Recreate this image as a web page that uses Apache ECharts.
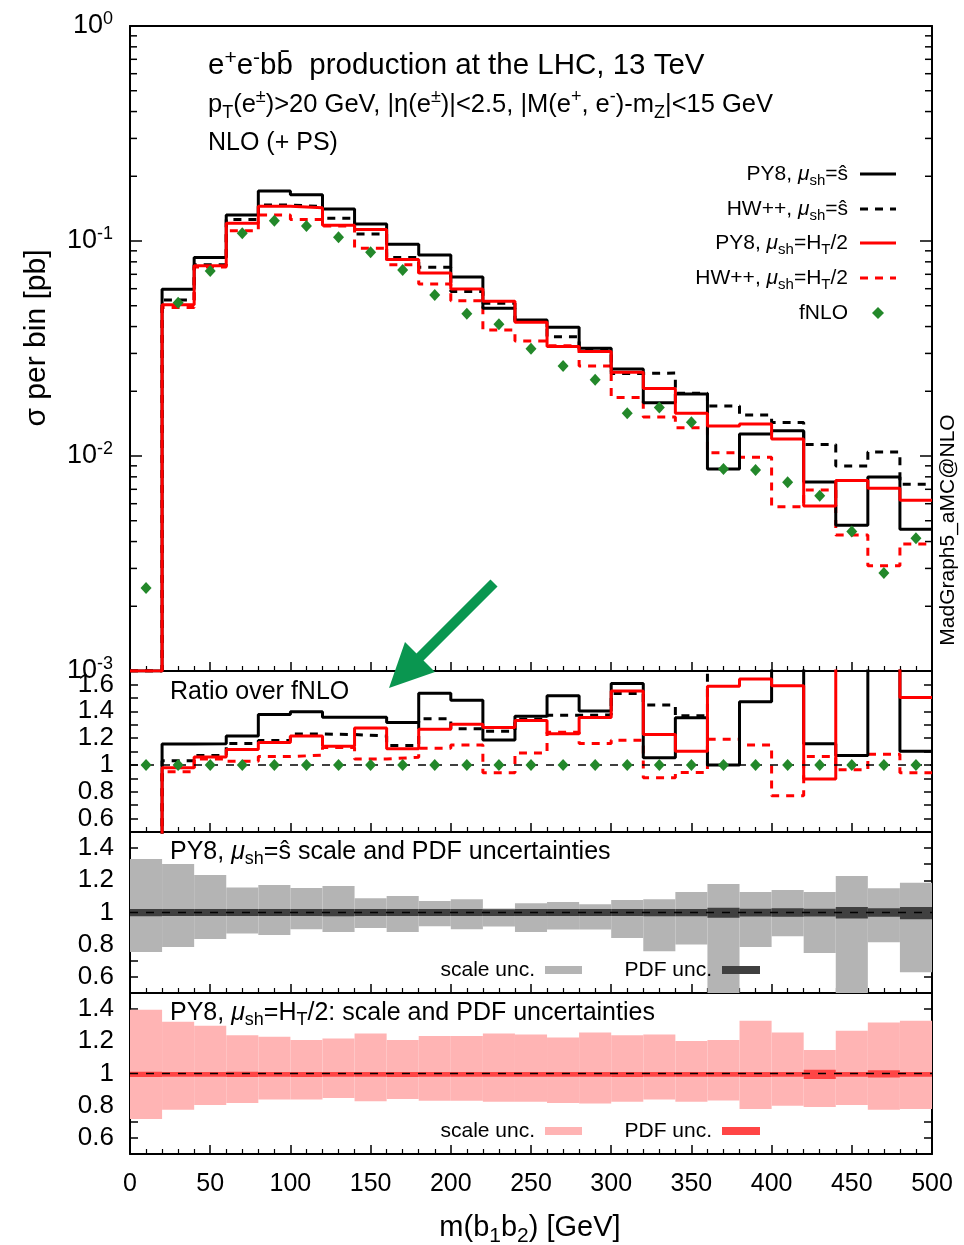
<!DOCTYPE html>
<html>
<head>
<meta charset="utf-8">
<script src="https://cdn.jsdelivr.net/npm/echarts@6/dist/echarts.min.js"></script>
<style>
  html, body { margin: 0; padding: 0; background: #fff; }
  #chart { width: 964px; height: 1245px; }
</style>
</head>
<body>
<div id="chart"></div>
<script>
// m(b1b2) bin edges [GeV]
const binEdges = [0, 20, 40, 60, 80, 100, 120, 140, 160, 180, 200, 220, 240, 260, 280, 300, 320, 340, 360, 380, 400, 420, 440, 460, 480, 500];

// sigma per bin [pb]
const py8Shat = [0, 0.0596, 0.0839, 0.132, 0.171, 0.164, 0.141, 0.120, 0.0965, 0.0861, 0.0680, 0.0486, 0.0429, 0.0397, 0.0317, 0.0254, 0.0177, 0.0194, 0.0087, 0.01265, 0.0131, 0.00757, 0.00476, 0.00798, 0.00456];
const hwShat  = [0, 0.0532, 0.0776, 0.126, 0.147, 0.1445, 0.1275, 0.1077, 0.0839, 0.0754, 0.0583, 0.0513, 0.0422, 0.0359, 0.0310, 0.0242, 0.0243, 0.0196, 0.0171, 0.0155, 0.0143, 0.0113, 0.00898, 0.01044, 0.00738];
const py8Ht   = [0, 0.0505, 0.0768, 0.121, 0.145, 0.1427, 0.1185, 0.1130, 0.0821, 0.0710, 0.0598, 0.0524, 0.0419, 0.0323, 0.0306, 0.0245, 0.0206, 0.0158, 0.0138, 0.0141, 0.0120, 0.00585, 0.0077, 0.00708, 0.00622];
const hwHt    = [0, 0.0490, 0.0757, 0.1115, 0.132, 0.126, 0.1175, 0.0925, 0.0775, 0.0631, 0.0527, 0.0386, 0.0343, 0.0326, 0.0262, 0.0187, 0.0152, 0.01355, 0.01036, 0.00988, 0.00581, 0.00695, 0.00429, 0.00309, 0.0039];
const fnlo    = [0.00243, 0.0516, 0.0725, 0.1086, 0.1243, 0.1174, 0.104, 0.0886, 0.0733, 0.0561, 0.0459, 0.0410, 0.0315, 0.0262, 0.0226, 0.0158, 0.0168, 0.01435, 0.0087, 0.0086, 0.00755, 0.00654, 0.00445, 0.00286, 0.00414];

// PY8, mu_sh = s-hat: relative scale and PDF uncertainty envelopes
const scaleUpShat = [1.333, 1.302, 1.233, 1.156, 1.171, 1.152, 1.165, 1.088, 1.102, 1.071, 1.083, 1.025, 1.058, 1.065, 1.052, 1.077, 1.083, 1.127, 1.177, 1.127, 1.140, 1.127, 1.227, 1.150, 1.185];
const scaleDnShat = [0.754, 0.785, 0.835, 0.869, 0.860, 0.896, 0.879, 0.904, 0.879, 0.915, 0.896, 0.913, 0.879, 0.894, 0.894, 0.842, 0.760, 0.802, 0.45, 0.785, 0.852, 0.748, 0.45, 0.815, 0.629];
const pdfUpShat   = [1.022, 1.021, 1.021, 1.021, 1.021, 1.021, 1.022, 1.021, 1.021, 1.021, 1.021, 1.020, 1.021, 1.021, 1.021, 1.021, 1.022, 1.022, 1.030, 1.024, 1.026, 1.024, 1.034, 1.026, 1.034];
const pdfDnShat   = [0.977, 0.978, 0.978, 0.978, 0.978, 0.978, 0.977, 0.978, 0.978, 0.978, 0.978, 0.979, 0.978, 0.978, 0.978, 0.978, 0.977, 0.977, 0.967, 0.975, 0.973, 0.975, 0.962, 0.974, 0.958];

// PY8, mu_sh = H_T/2: relative scale and PDF uncertainty envelopes
const scaleUpHt = [1.396, 1.321, 1.296, 1.238, 1.229, 1.208, 1.217, 1.248, 1.208, 1.233, 1.233, 1.248, 1.242, 1.223, 1.254, 1.238, 1.242, 1.202, 1.208, 1.327, 1.254, 1.146, 1.265, 1.317, 1.327];
const scaleDnHt = [0.717, 0.775, 0.804, 0.817, 0.838, 0.838, 0.848, 0.827, 0.842, 0.831, 0.831, 0.825, 0.825, 0.817, 0.813, 0.825, 0.838, 0.825, 0.833, 0.779, 0.800, 0.792, 0.804, 0.775, 0.779];
const pdfUpHt   = [1.011, 1.010, 1.010, 1.011, 1.010, 1.010, 1.010, 1.010, 1.009, 1.010, 1.010, 1.010, 1.010, 1.010, 1.010, 1.010, 1.010, 1.010, 1.010, 1.010, 1.010, 1.024, 1.010, 1.020, 1.010];
const pdfDnHt   = [0.979, 0.980, 0.980, 0.979, 0.980, 0.978, 0.980, 0.980, 0.978, 0.980, 0.980, 0.980, 0.980, 0.980, 0.980, 0.979, 0.980, 0.980, 0.980, 0.979, 0.980, 0.966, 0.980, 0.975, 0.980];

// axis tick values
const xTicks = [0, 50, 100, 150, 200, 250, 300, 350, 400, 450, 500];
const ratioLabels = [0.6, 0.8, 1, 1.2, 1.4, 1.6];
const bandLabels = [0.6, 0.8, 1, 1.2, 1.4];

const FONT = '"Liberation Sans", Arial, Helvetica, sans-serif';
const GREEN = '#23882a';
const LOG_MIN = 1e-3, LOG_MAX = 1;

const G = [
  { left: 130, top: 26,  width: 802, height: 645 },
  { left: 130, top: 671, width: 802, height: 161 },
  { left: 130, top: 832, width: 802, height: 161 },
  { left: 130, top: 993, width: 802, height: 161 }
];

const centers = binEdges.slice(0, -1).map((e, i) => (e + binEdges[i + 1]) / 2);

function steps(vals, floor) {
  const pts = [];
  vals.forEach((v, i) => {
    const y = floor != null ? Math.max(v, floor) : v;
    pts.push([binEdges[i], y], [binEdges[i + 1], y]);
  });
  return pts;
}
const ratio = vals => vals.map((v, i) => v / fnlo[i]);
const bandData = (lo, hi) => lo.map((l, i) => [binEdges[i], binEdges[i + 1], l, hi[i]]);

function xAxis(i) {
  return {
    type: 'value', gridIndex: i, min: 0, max: 500, interval: 50,
    axisLine: { show: true, onZero: false, lineStyle: { color: '#000', width: 2 } },
    axisTick: { show: true, inside: true, length: 9, lineStyle: { color: '#000', width: 1.5 } },
    minorTick: { show: true, splitNumber: 5, length: 5, lineStyle: { color: '#000', width: 1.2 } },
    splitLine: { show: false },
    axisLabel: {
      show: i === 3, margin: 18, fontSize: 25, color: '#000', fontFamily: FONT,
      formatter: v => xTicks.includes(v) ? String(v) : ''
    }
  };
}
// plain frame edge along the top of the main panel
function xAxisTop(i) {
  return {
    type: 'value', gridIndex: i, position: 'top', min: 0, max: 500, interval: 50,
    axisLine: { show: true, onZero: false, lineStyle: { color: '#000', width: 2 } },
    axisTick: { show: false }, minorTick: { show: false },
    splitLine: { show: false }, axisLabel: { show: false }
  };
}
function linYAxis(i, max, labels, right) {
  return {
    type: 'value', gridIndex: i, min: 0.5, max: max, interval: 0.1,
    position: right ? 'right' : 'left',
    axisLine: { show: true, onZero: false, lineStyle: { color: '#000', width: 2 } },
    axisTick: { show: true, inside: true, length: 8, lineStyle: { color: '#000', width: 1.5 } },
    splitLine: { show: false },
    axisLabel: {
      show: !right, margin: 16, fontSize: 26, color: '#000', fontFamily: FONT,
      showMinLabel: true, showMaxLabel: true,
      formatter: v => {
        const r = Math.round(v * 10) / 10;
        return labels.some(l => Math.abs(l - r) < 1e-6) ? String(r) : '';
      }
    }
  };
}
function logYAxis(right) {
  return {
    type: 'log', logBase: 10, gridIndex: 0, min: LOG_MIN, max: LOG_MAX, splitNumber: 3,
    position: right ? 'right' : 'left',
    axisLine: { show: true, onZero: false, lineStyle: { color: '#000', width: 2 } },
    axisTick: { show: true, inside: true, length: 12, lineStyle: { color: '#000', width: 1.5 } },
    splitLine: { show: false },
    axisLabel: {
      show: !right, margin: 17, color: '#000', fontFamily: FONT,
      showMinLabel: true, showMaxLabel: true,
      formatter: v => '{b|10}{e|' + Math.round(Math.log10(v)) + '}',
      rich: {
        b: { fontSize: 27, fontFamily: FONT, color: '#000', lineHeight: 32 },
        e: { fontSize: 18, fontFamily: FONT, color: '#000', lineHeight: 18, verticalAlign: 'top' }
      }
    }
  };
}

function stepLine(name, vals, grid, color, dashed, floor) {
  return {
    name, type: 'line', xAxisIndex: grid, yAxisIndex: grid,
    data: steps(vals, floor), showSymbol: false, symbol: 'none', clip: true,
    lineStyle: { color, width: 3, type: dashed ? [8, 7] : 'solid' },
    z: dashed ? 3 : 4, animation: false, silent: true
  };
}
function unityLine(grid) {
  return {
    type: 'line', xAxisIndex: grid, yAxisIndex: grid,
    data: [[binEdges[0], 1], [binEdges[binEdges.length - 1], 1]],
    showSymbol: false, symbol: 'none',
    lineStyle: { color: '#000', width: 1.5, type: [8, 8] }, z: 6, animation: false, silent: true
  };
}
function band(grid, lo, hi, color, z) {
  return {
    type: 'custom', xAxisIndex: grid, yAxisIndex: grid, z: z,
    data: bandData(lo, hi), encode: { x: [0, 1], y: [2, 3] }, animation: false, silent: true,
    renderItem: (params, api) => {
      const p0 = api.coord([api.value(0), api.value(3)]);
      const p1 = api.coord([api.value(1), api.value(2)]);
      const cs = params.coordSys;
      const r = echarts.graphic.clipRectByRect(
        { x: p0[0], y: p0[1], width: p1[0] - p0[0], height: p1[1] - p0[1] },
        { x: cs.x, y: cs.y, width: cs.width, height: cs.height });
      if (!r) return null;
      return { type: 'rect', shape: r, style: { fill: color, stroke: null } };
    }
  };
}

// rich text helpers
const richBase = size => ({
  n: { fontSize: size, fontFamily: FONT, color: '#000', lineHeight: size + 8 },
  i: { fontSize: size, fontFamily: FONT, color: '#000', fontStyle: 'italic', lineHeight: size + 8 },
  sub: { fontSize: Math.round(size * 0.72), fontFamily: FONT, color: '#000', lineHeight: Math.round(size * 0.72), verticalAlign: 'bottom' },
  sup: { fontSize: Math.round(size * 0.72), fontFamily: FONT, color: '#000', lineHeight: Math.round(size * 0.72), verticalAlign: 'top' }
});
function rtext(x, y, text, size, align, rot) {
  return {
    type: 'text', x, y, rotation: rot || 0, z: 50,
    style: { text, rich: richBase(size), textAlign: align || 'left', textVerticalAlign: 'middle', fontFamily: FONT, fontSize: size, fill: '#000' }
  };
}

const chart = echarts.init(document.getElementById('chart'), null, { renderer: 'canvas' });

const graphics = [
  // annotations in the main panel
  rtext(208, 66, '{n|e}{sup|+}{n|e}{sup|-}{n|bb\u0304  production at the LHC, 13 TeV}', 29.5),
  rtext(208, 105, '{n|p}{sub|T}{n|(e}{sup|±}{n|)>20 GeV, |η(e}{sup|±}{n|)|<2.5, |M(e}{sup|+}{n|, e}{sup|-}{n|)-m}{sub|Z}{n||<15 GeV}', 25.5),
  rtext(208, 143, '{n|NLO (+ PS)}', 25),
  // legend
  rtext(848, 174, '{n|PY8, }{i|μ}{sub|sh}{n|=ŝ}', 21, 'right'),
  rtext(848, 209, '{n|HW++, }{i|μ}{sub|sh}{n|=ŝ}', 21, 'right'),
  rtext(848, 243, '{n|PY8, }{i|μ}{sub|sh}{n|=H}{sub|T}{n|/2}', 21, 'right'),
  rtext(848, 278, '{n|HW++, }{i|μ}{sub|sh}{n|=H}{sub|T}{n|/2}', 21, 'right'),
  rtext(848, 313, '{n|fNLO}', 21, 'right'),
  { type: 'line', z: 50, shape: { x1: 860, y1: 174, x2: 896, y2: 174 }, style: { stroke: '#000', lineWidth: 3 } },
  { type: 'line', z: 50, shape: { x1: 860, y1: 209, x2: 896, y2: 209 }, style: { stroke: '#000', lineWidth: 3, lineDash: [8, 7] } },
  { type: 'line', z: 50, shape: { x1: 860, y1: 243, x2: 896, y2: 243 }, style: { stroke: '#ff0000', lineWidth: 3 } },
  { type: 'line', z: 50, shape: { x1: 860, y1: 278, x2: 896, y2: 278 }, style: { stroke: '#ff0000', lineWidth: 3, lineDash: [8, 7] } },
  { type: 'polygon', z: 50, shape: { points: [[878, 307], [884, 313], [878, 319], [872, 313]] }, style: { fill: GREEN } },
  // axis titles and generator tag
  rtext(37, 338, '{n|σ per bin [pb]}', 30, 'center', Math.PI / 2),
  rtext(530, 1228, '{n|m(b}{sub|1}{n|b}{sub|2}{n|) [GeV]}', 29, 'center'),
  rtext(948, 530, '{n|MadGraph5_aMC@NLO}', 21, 'center', Math.PI / 2),
  // ratio panel
  rtext(170, 692, '{n|Ratio over fNLO}', 25),
  // green arrow
  { type: 'line', z: 60, shape: { x1: 494, y1: 583, x2: 418, y2: 659 }, style: { stroke: '#0a9650', lineWidth: 10 } },
  { type: 'polygon', z: 60, shape: { points: [[389, 688], [405, 642], [435, 672]] }, style: { fill: '#0a9650' } },
  // scale / PDF uncertainty panels
  rtext(170, 852, '{n|PY8, }{i|μ}{sub|sh}{n|=ŝ scale and PDF uncertainties}', 25),
  rtext(535, 970, '{n|scale unc.}', 21, 'right'),
  { type: 'rect', z: 50, shape: { x: 545, y: 966, width: 37, height: 8 }, style: { fill: '#b4b4b4' } },
  rtext(712, 970, '{n|PDF unc.}', 21, 'right'),
  { type: 'rect', z: 50, shape: { x: 722, y: 966, width: 38, height: 8 }, style: { fill: '#404040' } },
  rtext(170, 1013, '{n|PY8, }{i|μ}{sub|sh}{n|=H}{sub|T}{n|/2: scale and PDF uncertainties}', 25),
  rtext(535, 1131, '{n|scale unc.}', 21, 'right'),
  { type: 'rect', z: 50, shape: { x: 545, y: 1127, width: 37, height: 8 }, style: { fill: '#ffb4b4' } },
  rtext(712, 1131, '{n|PDF unc.}', 21, 'right'),
  { type: 'rect', z: 50, shape: { x: 722, y: 1127, width: 38, height: 8 }, style: { fill: '#ff4545' } }
];

const option = {
  animation: false,
  textStyle: { fontFamily: FONT },
  grid: G.map(g => Object.assign({ containLabel: false, show: false }, g)),
  xAxis: [xAxis(0), xAxis(1), xAxis(2), xAxis(3), xAxisTop(0)],
  yAxis: [
    logYAxis(false),
    linYAxis(1, 1.7, ratioLabels, false),
    linYAxis(2, 1.5, bandLabels, false),
    linYAxis(3, 1.5, bandLabels, false),
    logYAxis(true),
    linYAxis(1, 1.7, ratioLabels, true),
    linYAxis(2, 1.5, bandLabels, true),
    linYAxis(3, 1.5, bandLabels, true)
  ],
  series: [
    // cross sections
    stepLine('PY8 shat', py8Shat, 0, '#000', false, LOG_MIN),
    stepLine('HW++ shat', hwShat, 0, '#000', true, LOG_MIN),
    stepLine('PY8 HT/2', py8Ht, 0, '#ff0000', false, LOG_MIN),
    stepLine('HW++ HT/2', hwHt, 0, '#ff0000', true, LOG_MIN),
    { name: 'fNLO', type: 'scatter', xAxisIndex: 0, yAxisIndex: 0, symbol: 'diamond', symbolSize: [11, 12],
      data: fnlo.map((v, i) => [centers[i], v]), itemStyle: { color: GREEN, opacity: 1 }, z: 8, animation: false, silent: true },
    // ratios over fNLO
    unityLine(1),
    stepLine('PY8 shat ratio', ratio(py8Shat), 1, '#000', false),
    stepLine('HW++ shat ratio', ratio(hwShat), 1, '#000', true),
    stepLine('PY8 HT/2 ratio', ratio(py8Ht), 1, '#ff0000', false),
    stepLine('HW++ HT/2 ratio', ratio(hwHt), 1, '#ff0000', true),
    { name: 'fNLO ratio', type: 'scatter', xAxisIndex: 1, yAxisIndex: 1, symbol: 'diamond', symbolSize: [11, 12],
      data: ratio(fnlo).map((v, i) => [centers[i], v]), itemStyle: { color: GREEN, opacity: 1 }, z: 8, animation: false, silent: true },
    // uncertainty bands
    band(2, scaleDnShat, scaleUpShat, '#b4b4b4', 2),
    band(2, pdfDnShat, pdfUpShat, '#404040', 3),
    unityLine(2),
    band(3, scaleDnHt, scaleUpHt, '#ffb4b4', 2),
    band(3, pdfDnHt, pdfUpHt, '#ff4545', 3),
    unityLine(3)
  ],
  graphic: graphics
};
chart.setOption(option);

// minor decade ticks on the logarithmic axis, placed through the axis scale
const minor = [];
for (let e = -3; e < 0; e++) {
  for (let k = 2; k <= 9; k++) {
    const py = chart.convertToPixel({ yAxisIndex: 0 }, k * Math.pow(10, e));
    const l = G[0].left, r = G[0].left + G[0].width;
    minor.push({ type: 'line', z: 40, silent: true, shape: { x1: l, y1: py, x2: l + 7, y2: py }, style: { stroke: '#000', lineWidth: 1.5 } });
    minor.push({ type: 'line', z: 40, silent: true, shape: { x1: r - 7, y1: py, x2: r, y2: py }, style: { stroke: '#000', lineWidth: 1.5 } });
  }
}
chart.setOption({ graphic: graphics.concat(minor) });
</script>
</body>
</html>
